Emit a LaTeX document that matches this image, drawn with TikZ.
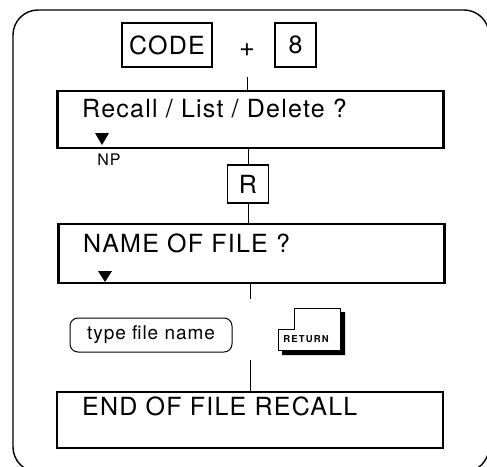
\documentclass[tikz,border=0pt]{standalone}
\usepackage{fontspec}
\usepackage{tikz}
\usetikzlibrary{positioning,calc}
\newfontfamily\lcdfont[LetterSpace=5]{TeX Gyre Heros}
\newfontfamily\keyfont[LetterSpace=12]{TeX Gyre Heros}
\tikzset{
  screen/.style={draw,line width=2.4pt,minimum width=386pt,minimum height=57pt,inner sep=0pt},
  keybox/.style={draw,line width=1.1pt,minimum height=44pt,inner sep=0pt,font=\lcdfont\fontsize{25}{25}\selectfont},
  scrtext/.style={anchor=base west,inner sep=0pt,font=\lcdfont\fontsize{25}{25}\selectfont},
  ubox/.style={draw,line width=1pt,rounded corners=8pt,minimum width=162pt,minimum height=34pt,inner sep=0pt,font=\lcdfont\fontsize{19}{19}\selectfont},
  link/.style={line width=0.8pt},
}

\begin{document}
\begin{tikzpicture}[x=1pt,y=-1pt]
  \useasboundingbox (0,0) rectangle (487,466);
  % outer frame
  \draw[line width=1.4pt,rounded corners=25pt] (13,10) rectangle (489,472);
  % key sequence
  \node[keybox,minimum width=90pt] (code) at (167,45) {CODE};
  \node[inner sep=0pt,font=\lcdfont\fontsize{27}{27}\selectfont] (plus) at (247,50) {+};
  \node[keybox,minimum width=41pt] (eight) at (295.5,45) {8};
  % screens
  \node[screen] (recall) at (250.5,119.5) {};
  \node[scrtext] (recallt) at (82,117) {Recall / List / Delete ?};
  \fill (95,133) -- (109,133) -- (102,145) -- cycle;
  \node[inner sep=0pt,font=\lcdfont\fontsize{16}{16}\selectfont] (np) at (109,160) {NP};
  \node[keybox,minimum width=41pt,minimum height=38pt] (rkey) at (248,184) {R};
  \node[screen,minimum height=59pt] (name) at (251.5,253.5) {};
  \node[scrtext] (namet) at (83,252) {NAME OF FILE ?};
  \fill (98,271) -- (112,271) -- (105,282) -- cycle;
  \node[ubox] (typ) at (151,335) {type file name};
  % return key
  \fill (340,312) -- (345,312) -- (345,355) -- (282,355) -- (282,350) -- (340,350) -- cycle;
  \draw[line width=1pt] (278,329) -- (294,329) -- (294,308) -- (340,308) -- (340,350) -- (278,350) -- cycle;
  \node[inner sep=0pt,font=\keyfont\bfseries\fontsize{9.5}{9.5}\selectfont] (ret) at (306,339) {RETURN};
  \node[screen,minimum height=56pt] (endbox) at (250,420) {};
  \node[scrtext] (endt) at (82,415) {END OF FILE RECALL};
  % connectors
  \coordinate (c1) at (247,77);
  \coordinate (c2) at (250,299);
  \coordinate (c3) at (250,360);
  \draw[link] (c1) -- (c1 |- recall.north);
  \draw[link] (rkey.north) -- (rkey.north |- recall.south);
  \draw[link] (rkey.south) -- (rkey.south |- name.north);
  \draw[link] (c2 |- name.south) -- (c2);
  \draw[link] (c3) -- (c3 |- endbox.north);
\end{tikzpicture}
\end{document}
